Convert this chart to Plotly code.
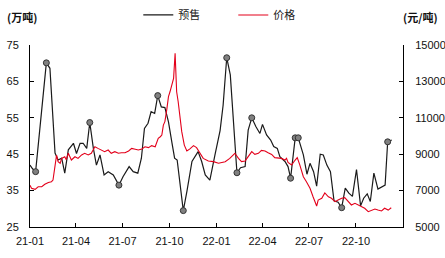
import plotly.graph_objects as go

# 预售 (万吨) - left axis
presale_dates = [
    "2021-01-01", "2021-01-06", "2021-01-12", "2021-01-21", "2021-01-27", "2021-02-02", "2021-02-09",
    "2021-02-19", "2021-02-25", "2021-03-04", "2021-03-10", "2021-03-17", "2021-03-27", "2021-04-02",
    "2021-04-09", "2021-04-15", "2021-04-22", "2021-04-28", "2021-05-05", "2021-05-11", "2021-05-18",
    "2021-05-26", "2021-06-03", "2021-06-13", "2021-06-24", "2021-07-02", "2021-07-14", "2021-07-22",
    "2021-07-31", "2021-08-07", "2021-08-13", "2021-08-20", "2021-08-26", "2021-09-02", "2021-09-08",
    "2021-09-15", "2021-09-22", "2021-09-29", "2021-10-06", "2021-10-11", "2021-10-16", "2021-10-28",
    "2021-11-04", "2021-11-14", "2021-11-26", "2021-12-03", "2021-12-10", "2021-12-19", "2021-12-29",
    "2022-01-08", "2022-01-14", "2022-01-21", "2022-01-28", "2022-02-10", "2022-02-17", "2022-02-26",
    "2022-03-04", "2022-03-11", "2022-03-19", "2022-03-27", "2022-04-01", "2022-04-09", "2022-04-17",
    "2022-04-23", "2022-04-30", "2022-05-05", "2022-05-15", "2022-05-21", "2022-05-26", "2022-06-04",
    "2022-06-10", "2022-06-20", "2022-06-27", "2022-07-03", "2022-07-10", "2022-07-16", "2022-07-23",
    "2022-07-29", "2022-08-05", "2022-08-12", "2022-08-19", "2022-08-27", "2022-09-03", "2022-09-10",
    "2022-09-17", "2022-09-24", "2022-10-02", "2022-10-10", "2022-10-16", "2022-10-23", "2022-10-29",
    "2022-11-05", "2022-11-13", "2022-11-27", "2022-12-02", "2022-12-10",
]
presale_values = [
    42.0, 41.0, 40.2, 53.0, 62.0, 70.1, 68.6,
    45.3, 43.4, 43.9, 39.8, 46.2, 48.0, 45.2,
    48.0, 48.0, 46.6, 53.7, 46.6, 42.0, 44.8,
    39.3, 40.2, 39.3, 36.5, 38.8, 41.6, 40.2,
    39.8, 43.9, 52.1, 53.5, 56.7, 56.2, 61.1,
    58.0, 57.8, 53.9, 48.0, 43.9, 43.4, 29.5,
    34.7, 43.0, 45.7, 43.0, 39.3, 37.9, 44.8,
    51.5, 58.5, 71.5, 66.8, 39.9, 41.3, 41.6,
    51.6, 55.0, 52.6, 50.7, 53.2, 50.3, 48.9,
    47.1, 46.6, 44.3, 43.0, 41.6, 38.4, 49.5,
    49.5, 44.8, 39.5, 42.5, 40.2, 36.2, 45.0,
    44.8, 42.0, 40.2, 32.2, 31.8, 30.3, 35.7,
    34.3, 33.4, 40.8, 30.8, 32.9, 34.1, 32.0,
    39.8, 35.4, 36.5, 48.4, 48.9,
]
# indices of highlighted points (circle markers)
presale_marked = [2, 5, 17, 24, 34, 41, 51, 53, 57, 68, 69, 70, 82, 94]

# 价格 (元/吨) - right axis
price_dates = [
    "2021-01-01", "2021-01-04", "2021-01-11", "2021-01-17", "2021-01-24", "2021-01-30", "2021-02-06",
    "2021-02-12", "2021-02-15", "2021-02-19", "2021-02-22", "2021-02-25", "2021-03-01", "2021-03-04",
    "2021-03-10", "2021-03-13", "2021-03-17", "2021-03-23", "2021-03-30", "2021-04-05", "2021-04-12",
    "2021-04-18", "2021-04-25", "2021-05-01", "2021-05-08", "2021-05-14", "2021-05-21", "2021-05-27",
    "2021-06-03", "2021-06-09", "2021-06-16", "2021-06-23", "2021-06-29", "2021-07-06", "2021-07-13",
    "2021-07-19", "2021-07-26", "2021-08-01", "2021-08-08", "2021-08-14", "2021-08-21", "2021-08-27",
    "2021-09-03", "2021-09-09", "2021-09-13", "2021-09-16", "2021-09-19", "2021-09-22", "2021-09-26",
    "2021-09-29", "2021-10-02", "2021-10-05", "2021-10-09", "2021-10-12", "2021-10-13", "2021-10-15",
    "2021-10-18", "2021-10-22", "2021-10-25", "2021-10-30", "2021-11-04", "2021-11-10", "2021-11-17",
    "2021-11-23", "2021-11-30", "2021-12-06", "2021-12-16", "2021-12-26", "2022-01-05", "2022-01-11",
    "2022-01-18", "2022-01-27", "2022-02-03", "2022-02-06", "2022-02-13", "2022-02-19", "2022-02-26",
    "2022-03-04", "2022-03-11", "2022-03-17", "2022-03-24", "2022-03-30", "2022-04-06", "2022-04-12",
    "2022-04-19", "2022-04-25", "2022-05-02", "2022-05-08", "2022-05-15", "2022-05-18", "2022-05-21",
    "2022-05-28", "2022-06-04", "2022-06-08", "2022-06-13", "2022-06-20", "2022-06-26", "2022-07-03",
    "2022-07-09", "2022-07-16", "2022-07-19", "2022-07-26", "2022-08-01", "2022-08-08", "2022-08-14",
    "2022-08-21", "2022-08-27", "2022-09-03", "2022-09-09", "2022-09-16", "2022-09-22", "2022-09-29",
    "2022-10-05", "2022-10-12", "2022-10-18", "2022-10-25", "2022-10-31", "2022-11-07", "2022-11-13",
    "2022-11-20", "2022-11-26", "2022-12-03", "2022-12-09",
]
price_values = [
    7300, 7130, 7070, 7210, 7210, 7350, 7450,
    7490, 7580, 8400, 8950, 8590, 8500, 8770,
    8860, 8700, 9050, 8680, 8860, 8770, 8960,
    9050, 8960, 9050, 9410, 9320, 9230, 9140,
    9230, 9050, 9140, 9050, 9080, 9080, 9175,
    9320, 9270, 9230, 9290, 9410, 9360, 9470,
    9410, 9870, 9960, 10050, 10600, 10790, 11520,
    12160, 12430, 12800, 13170, 14540, 13900, 12430,
    11880, 10970, 10240, 9500, 9175, 9290, 9470,
    9360, 9050, 8770, 8630, 8590, 8500, 8530,
    8590, 8770, 8960, 9050, 8770, 8590, 8630,
    8860, 9140, 8990, 9050, 9210, 9175, 9080,
    8990, 8810, 8770, 8770, 8680, 8770, 8550,
    8410, 8680, 8810, 8410, 7760, 7490, 7130,
    6660, 6150, 6480, 6580, 6870, 6660, 6580,
    6390, 6480, 6580, 6610, 6390, 6210, 6300,
    6210, 6120, 6030, 5840, 5930, 5990, 5930,
    5880, 6030, 5930, 6060,
]

x_ticks = ["2021-01-01", "2021-04-01", "2021-07-01", "2021-10-01",
           "2022-01-01", "2022-04-01", "2022-07-01", "2022-10-01"]
x_ticktext = [d[2:4] + "-" + d[5:7] for d in x_ticks]
left_ticks = [25, 35, 45, 55, 65, 75]
right_ticks = [5000, 7000, 9000, 11000, 13000, 15000]
right_ticktext = [str(v) for v in right_ticks]

num_font = dict(family="Liberation Sans, Arial, sans-serif", size=11, color="#111")
cjk = "Noto Sans CJK SC"

fig = go.Figure()
fig.add_trace(go.Scatter(
    x=presale_dates, y=presale_values, name="预售", mode="lines",
    line=dict(color="#1a1a1a", width=1.2), yaxis="y",
))
fig.add_trace(go.Scatter(
    x=price_dates, y=price_values, name="价格", mode="lines",
    line=dict(color="#e3001b", width=1.1), yaxis="y2",
))
fig.add_trace(go.Scatter(
    x=[presale_dates[i] for i in presale_marked],
    y=[presale_values[i] for i in presale_marked],
    mode="markers", showlegend=False, yaxis="y",
    marker=dict(size=6, color="#808080", line=dict(color="#333", width=1)),
))

axis_common = dict(showgrid=False, zeroline=False, showline=True, linecolor="#000",
                   linewidth=1, ticks="inside", ticklen=4, tickcolor="#000",
                   tickfont=num_font)

fig.update_layout(
    width=445, height=258,
    margin=dict(l=29.5, r=42, t=45, b=31, autoexpand=False),
    paper_bgcolor="white", plot_bgcolor="white",
    xaxis=dict(range=["2021-01-01", "2023-01-01"], tickvals=x_ticks, ticktext=x_ticktext,
               ticklabelstandoff=4, **axis_common),
    yaxis=dict(range=[25, 75], tickvals=left_ticks, ticklabelstandoff=8, **axis_common),
    yaxis2=dict(range=[5000, 15000], tickvals=right_ticks, ticktext=right_ticktext,
                overlaying="y", side="right", ticklabelstandoff=9, **axis_common),
    legend=dict(orientation="h", x=0.545, xanchor="center", y=1.165, yanchor="middle",
                font=dict(family=cjk, size=11, color="#222"), bgcolor="rgba(0,0,0,0)",
                itemwidth=30, entrywidth=50, tracegroupgap=0),
    showlegend=True,
    annotations=[
        dict(text="<b>(万吨)</b>", xref="paper", yref="paper", x=-0.066, y=1.154,
             xanchor="left", yanchor="middle", showarrow=False,
             font=dict(family=cjk, size=11, color="#111")),
        dict(text="<b>(元/吨)</b>", xref="paper", yref="paper", x=1.1, y=1.154,
             xanchor="right", yanchor="middle", showarrow=False,
             font=dict(family=cjk, size=11, color="#111")),
    ],
)

fig.write_html("out.html")
